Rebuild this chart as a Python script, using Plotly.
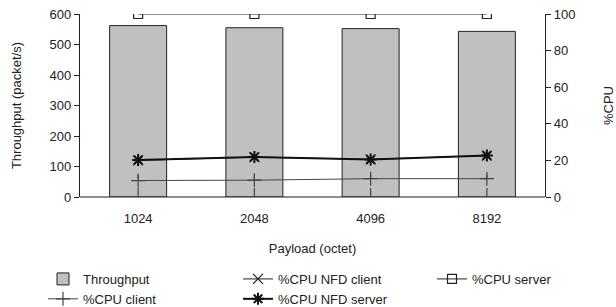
import plotly.graph_objects as go

payloads = ["1024", "2048", "4096", "8192"]
throughput = [562, 555, 552, 543]
cpu_nfd_client = [20.0, 21.8, 20.6, 22.6]
cpu_server = [100, 100, 100, 100]
cpu_client = [9.0, 9.2, 10.0, 10.0]
cpu_client_low = [0, 0, 0, 0]
cpu_client_high = [12, 12, 12, 12]
cpu_nfd_server = [20.2, 21.9, 20.5, 22.7]

line_col = "#222222"
fig = go.Figure()

fig.add_trace(go.Bar(
    x=payloads, y=throughput, name="Throughput", width=0.49,
    marker=dict(color="#c0c0c0", line=dict(color="#222222", width=1)),
    yaxis="y", legend="legend",
))
fig.add_trace(go.Scatter(
    x=payloads, y=cpu_client, name="%CPU client", mode="lines+markers",
    line=dict(color="#444444", width=1),
    marker=dict(symbol="cross-thin-open", size=10, line=dict(color="#444444", width=1.2)),
    yaxis="y2", legend="legend",
))
# dashed min/max range of client CPU
ex, ey = [], []
for p, lo, hi in zip(payloads, cpu_client_low, cpu_client_high):
    ex += [p, p, None]
    ey += [lo, hi, None]
fig.add_trace(go.Scatter(
    x=ex, y=ey, mode="lines", showlegend=False, hoverinfo="skip",
    line=dict(color="#444444", width=1.2, dash="dash"), yaxis="y2",
))
fig.add_trace(go.Scatter(
    x=payloads, y=cpu_nfd_client, name="%CPU NFD client", mode="lines+markers",
    line=dict(color=line_col, width=1),
    marker=dict(symbol="x-thin-open", size=10, line=dict(color=line_col, width=1.2)),
    yaxis="y2", legend="legend2",
))
fig.add_trace(go.Scatter(
    x=payloads, y=cpu_nfd_server, name="%CPU NFD server", mode="lines+markers",
    line=dict(color="#111111", width=2),
    marker=dict(symbol="asterisk-open", size=10, line=dict(color="#111111", width=2)),
    yaxis="y2", legend="legend2",
))
fig.add_trace(go.Scatter(
    x=payloads, y=cpu_server, name="%CPU server", mode="lines+markers",
    line=dict(color=line_col, width=1),
    marker=dict(symbol="square-open", size=9, color=line_col, line=dict(width=1.2)),
    yaxis="y2", legend="legend3",
))

font = dict(family="Liberation Sans, Arial, sans-serif", size=13, color="#222222")
title_font = dict(family="Liberation Sans, Arial, sans-serif", size=13, color="#222222")
leg_common = dict(orientation="v", xanchor="left", y=-0.366, yanchor="top",
                  traceorder="normal", font=dict(size=13), tracegroupgap=0,
                  itemsizing="trace", bgcolor="rgba(0,0,0,0)")
fig.update_layout(
    width=616, height=307,
    margin=dict(l=80, r=71, t=14, b=110, autoexpand=False),
    paper_bgcolor="white", plot_bgcolor="white",
    font=font,
    xaxis=dict(
        type="category", range=[-0.5, 3.5], showgrid=False, zeroline=False,
        showline=False, ticks="", automargin=False, ticklabelstandoff=12,
        title=dict(text="Payload (octet)", standoff=18, font=title_font),
    ),
    yaxis=dict(
        range=[0, 600], dtick=100, showgrid=False, zeroline=False, automargin=False,
        showline=True, linecolor="#222222", linewidth=1.2, ticks="outside", ticklen=5,
        tickcolor="#222222",
        title=dict(text="Throughput (packet/s)", standoff=25, font=title_font),
    ),
    yaxis2=dict(
        range=[0, 100], dtick=20, overlaying="y", side="right", showgrid=False,
        zeroline=False, showline=True, linecolor="#222222", linewidth=1.2,
        ticks="outside", ticklen=5, tickcolor="#222222", automargin=False,
        title=dict(text="%CPU", standoff=30, font=title_font),
    ),
    shapes=[dict(type="line", xref="paper", yref="paper", x0=0, x1=1, y0=0, y1=0,
                 line=dict(color="#222222", width=1.2))],
    showlegend=True,
    legend=dict(x=-0.0796, **leg_common),
    legend2=dict(x=0.3398, **leg_common),
    legend3=dict(x=0.757, **leg_common),
)
fig.write_html("out.html", post_script="document.body.style.margin='0';",
               config={"displayModeBar": False})
